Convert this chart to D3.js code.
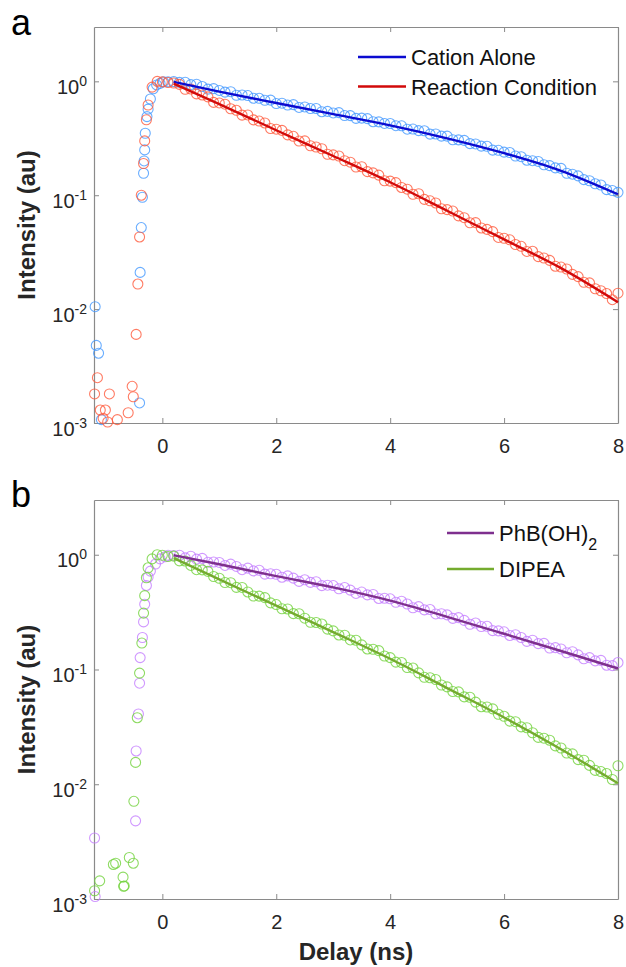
<!DOCTYPE html>
<html><head><meta charset="utf-8">
<script src="https://cdn.jsdelivr.net/npm/d3@7"></script>
<style>
body{margin:0;background:#fff}
svg{display:block}
text{font-family:"Liberation Sans",Arial,Helvetica,sans-serif}
</style>
</head><body>
<svg id="chart" width="626" height="967"></svg>
<script>
// ---------- DATA ----------
const xTicks = [0, 2, 4, 6, 8];
const yTicks = [1e-3, 1e-2, 1e-1, 1];
const yTickExp = ["-3", "-2", "-1", "0"];

const decayT = [0.1,0.2,0.3,0.4,0.5,0.6,0.7,0.8,0.9,1.0,
  1.1,1.2,1.3,1.4,1.5,1.6,1.7,1.8,1.9,2.0,
  2.1,2.2,2.3,2.4,2.5,2.6,2.7,2.8,2.9,3.0,
  3.1,3.2,3.3,3.4,3.5,3.6,3.7,3.8,3.9,4.0,
  4.1,4.2,4.3,4.4,4.5,4.6,4.7,4.8,4.9,5.0,
  5.1,5.2,5.3,5.4,5.5,5.6,5.7,5.8,5.9,6.0,
  6.1,6.2,6.3,6.4,6.5,6.6,6.7,6.8,6.9,7.0,
  7.1,7.2,7.3,7.4,7.5,7.6,7.7,7.8,7.9,8.0];

// Panel a
const cationRiseT = [-1.18,-1.16,-1.12,-1.07,-0.40,-0.39,-0.37,-0.35,-0.33,-0.32,-0.31,-0.30,-0.27,-0.25,-0.21,-0.16,-0.10,-0.04,0.02];
const cationRiseI = [0.0105,0.0048,0.0041,0.00107,0.0015,0.021,0.052,0.096,0.156,0.20,0.25,0.35,0.49,0.57,0.70,0.86,0.93,0.96,0.99];
const cationDecay = [0.99,0.995,0.98,0.982,0.935,0.944,0.90,0.855,0.863,0.832,
  0.804,0.811,0.755,0.759,0.75,0.711,0.71,0.682,0.684,0.638,
  0.643,0.619,0.625,0.59,0.596,0.577,0.578,0.541,0.545,0.528,
  0.531,0.501,0.50,0.473,0.475,0.471,0.442,0.441,0.427,0.426,
  0.408,0.407,0.38,0.381,0.369,0.368,0.344,0.345,0.33,0.33,
  0.307,0.306,0.303,0.284,0.282,0.27,0.269,0.249,0.248,0.239,
  0.237,0.221,0.218,0.203,0.201,0.198,0.185,0.182,0.174,0.172,
  0.156,0.153,0.148,0.137,0.134,0.126,0.123,0.112,0.110,0.106];

const reactionRiseT = [-1.19,-1.14,-1.09,-1.04,-1.0,-0.96,-0.93,-0.79,-0.60,-0.53,-0.51,-0.46,-0.43,-0.40,-0.37,-0.33,-0.31,-0.28,-0.25,-0.18,-0.09,0.0];
const reactionRiseI = [0.0018,0.0025,0.0013,0.0011,0.0013,0.00102,0.0018,0.00107,0.00123,0.0021,0.0017,0.006,0.0166,0.043,0.10,0.19,0.30,0.46,0.62,0.89,1.0,0.99];
const reactionDecay = [0.977,0.966,0.94,0.851,0.857,0.776,0.759,0.73,0.653,0.646,
  0.63,0.574,0.557,0.505,0.507,0.459,0.448,0.431,0.385,0.38,
  0.371,0.339,0.329,0.299,0.30,0.272,0.265,0.256,0.229,0.226,
  0.221,0.201,0.195,0.177,0.178,0.161,0.157,0.150,0.134,0.133,
  0.129,0.117,0.113,0.102,0.103,0.092,0.0893,0.0855,0.076,0.0748,
  0.0726,0.0659,0.0635,0.0573,0.0575,0.0516,0.0501,0.0479,0.0426,0.0419,
  0.0406,0.0369,0.0356,0.0321,0.0322,0.0289,0.0281,0.0268,0.0238,0.0234,
  0.0225,0.0202,0.0193,0.0172,0.017,0.0151,0.0145,0.0137,0.0121,0.0138];

// Panel b
const phbRiseT = [-1.19,-1.18,-0.47,-0.46,-0.42,-0.40,-0.39,-0.35,-0.33,-0.31,-0.28,-0.25,-0.21,-0.12,-0.04,0.05];
const phbRiseI = [0.0034,0.00105,0.0048,0.0195,0.041,0.076,0.127,0.19,0.26,0.37,0.54,0.64,0.72,0.83,0.92,0.96];
const phbDecay = [0.99,0.985,0.99,0.94,0.97,0.916,0.929,0.859,0.865,0.857,
  0.807,0.828,0.791,0.741,0.764,0.723,0.733,0.678,0.682,0.676,
  0.637,0.655,0.625,0.586,0.605,0.574,0.582,0.538,0.543,0.539,
  0.505,0.518,0.492,0.46,0.473,0.447,0.451,0.416,0.418,0.413,
  0.385,0.393,0.372,0.345,0.353,0.331,0.333,0.305,0.306,0.299,
  0.279,0.283,0.268,0.248,0.254,0.237,0.238,0.218,0.217,0.213,
  0.198,0.201,0.19,0.176,0.18,0.168,0.169,0.154,0.155,0.151,
  0.14,0.143,0.134,0.124,0.127,0.119,0.12,0.109,0.108,0.115];

const dipeaRiseT = [-1.19,-1.1,-0.86,-0.82,-0.69,-0.68,-0.67,-0.58,-0.51,-0.50,-0.47,-0.44,-0.40,-0.36,-0.33,-0.31,-0.28,-0.25,-0.18,-0.09,0.0];
const dipeaRiseI = [0.00118,0.00144,0.002,0.00205,0.00155,0.00129,0.0013,0.0023,0.00205,0.0071,0.0155,0.038,0.093,0.17,0.31,0.44,0.63,0.77,0.92,1.0,0.99];
const dipeaDecay = [0.966,0.973,0.885,0.883,0.807,0.741,0.738,0.716,0.646,0.624,
  0.573,0.571,0.52,0.519,0.474,0.437,0.436,0.423,0.381,0.368,
  0.338,0.337,0.307,0.306,0.28,0.258,0.257,0.249,0.225,0.217,
  0.20,0.199,0.181,0.18,0.164,0.151,0.15,0.146,0.131,0.127,
  0.116,0.115,0.104,0.103,0.0935,0.0855,0.0847,0.0818,0.0733,0.0705,
  0.0643,0.0638,0.0577,0.0573,0.052,0.0474,0.0471,0.0454,0.0407,0.0391,
  0.0355,0.0351,0.0316,0.0311,0.0281,0.0256,0.0252,0.0242,0.0216,0.0207,
  0.0187,0.0184,0.0164,0.0162,0.0146,0.0132,0.0129,0.0124,0.011,0.0145];

// Fits
const fitT = [0.2, 1, 2, 3, 4, 5, 6, 7, 8];
const cationFit   = [0.989, 0.813, 0.646, 0.515, 0.411, 0.316, 0.234, 0.164, 0.102];
const reactionFit = [0.955, 0.631, 0.372, 0.221, 0.130, 0.0731, 0.0409, 0.0229, 0.0115];
const phbFit      = [0.99, 0.826, 0.652, 0.519, 0.398, 0.288, 0.205, 0.145, 0.102];
const dipeaFit    = [0.933, 0.61, 0.36, 0.212, 0.124, 0.0689, 0.0382, 0.0202, 0.0102];

const panelLetters = ["a", "b"];
const legendA = ["Cation Alone", "Reaction Condition"];
const legendB = ["PhB(OH)", "DIPEA"];

// ---------- DRAW ----------
const svg = d3.select("#chart");
const L = 94, R = 618;
const x = d3.scaleLinear().domain([-1.2, 8]).range([L, R]);

function pts(tr, ir, dec) {
  const a = tr.map((t, i) => [t, ir[i]]);
  return a.concat(decayT.map((t, i) => [t, dec[i]]));
}

const panels = [
  {top: 27, bottom: 423, letter: panelLetters[0], letterY: 35,
   series: [
     {pts: pts(cationRiseT, cationRiseI, cationDecay), fit: cationFit, mc: "#4499ff", lc: "#0b0bd0"},
     {pts: pts(reactionRiseT, reactionRiseI, reactionDecay), fit: reactionFit, mc: "#ff5a3c", lc: "#d20a0a"}
   ],
   legend: {names: legendA, x1: 358, x2: 406, tx: 411, ys: [57, 86.5], sub: [null, null]}},
  {top: 500, bottom: 899, letter: panelLetters[1], letterY: 507,
   series: [
     {pts: pts(phbRiseT, phbRiseI, phbDecay), fit: phbFit, mc: "#c47eff", lc: "#7e2f8e"},
     {pts: pts(dipeaRiseT, dipeaRiseI, dipeaDecay), fit: dipeaFit, mc: "#72d23c", lc: "#74ab2e"}
   ],
   legend: {names: legendB, x1: 447, x2: 494, tx: 499, ys: [533, 569], sub: ["2", null]}}
];

const axisColor = "#8a8a8a";
const tickText = "#262626";

panels.forEach((p, pi) => {
  const y = d3.scaleLog().domain([1e-3, 3]).range([p.bottom, p.top]);
  const g = svg.append("g");

  // axes
  const xb = g.append("g").attr("transform", `translate(0,${p.bottom})`)
    .call(d3.axisBottom(x).tickValues(xTicks).tickSizeInner(-5).tickSizeOuter(0).tickPadding(16).tickFormat(d3.format("d")));
  const xt = g.append("g").attr("transform", `translate(0,${p.top})`)
    .call(d3.axisTop(x).tickValues(xTicks).tickSizeInner(-5).tickSizeOuter(0).tickFormat(""));
  const yl = g.append("g").attr("transform", `translate(${L},0)`)
    .call(d3.axisLeft(y).tickValues(yTicks).tickSizeInner(-5).tickSizeOuter(0).tickFormat(""));
  const yr = g.append("g").attr("transform", `translate(${R},0)`)
    .call(d3.axisRight(y).tickValues(yTicks).tickSizeInner(-5).tickSizeOuter(0).tickFormat(""));
  [xb, xt, yl, yr].forEach(a => {
    a.select(".domain").attr("stroke", axisColor).attr("stroke-width", 1.2);
    a.selectAll(".tick line").attr("stroke", axisColor).attr("stroke-width", 1);
  });
  xb.selectAll(".tick text").attr("fill", tickText).attr("font-size", 20)
    .attr("font-family", '"Liberation Sans",Arial,sans-serif');

  yl.selectAll(".tick").each(function(d, i) {
    const t = d3.select(this).append("text")
      .attr("x", -7).attr("y", 12).attr("text-anchor", "end").attr("fill", tickText)
      .attr("font-family", '"Liberation Sans",Arial,sans-serif');
    t.append("tspan").attr("font-size", 20).text("10");
    t.append("tspan").attr("font-size", 14).attr("dy", -8).text(yTickExp[yTicks.indexOf(d)]);
  });

  // data markers
  p.series.forEach(s => {
    g.append("g").selectAll("circle").data(s.pts).join("circle")
      .attr("cx", d => x(d[0])).attr("cy", d => y(d[1])).attr("r", 5)
      .attr("fill", "none").attr("stroke", s.mc).attr("stroke-width", 1.1).attr("stroke-opacity", 0.8);
  });
  // fit lines
  const line = d3.line().x(d => x(d[0])).y(d => y(d[1])).curve(d3.curveMonotoneX);
  p.series.forEach(s => {
    g.append("path").datum(fitT.map((t, i) => [t, s.fit[i]]))
      .attr("d", line).attr("fill", "none").attr("stroke", s.lc).attr("stroke-width", 2.4);
  });

  // legend
  p.series.forEach((s, i) => {
    const yy = p.legend.ys[i];
    g.append("line").attr("x1", p.legend.x1).attr("x2", p.legend.x2).attr("y1", yy).attr("y2", yy)
      .attr("stroke", s.lc).attr("stroke-width", 2.4);
    const t = g.append("text").attr("x", p.legend.tx).attr("y", yy + 8).attr("font-size", 22).attr("fill", "#111")
      .text(p.legend.names[i]);
    if (p.legend.sub[i]) t.append("tspan").attr("font-size", 16).attr("dy", 9).text(p.legend.sub[i]);
  });

  // panel letter
  svg.append("text").attr("x", 11).attr("y", p.letterY).attr("font-size", 36).attr("fill", "#000").text(p.letter);

  // y label
  svg.append("text").attr("transform", `translate(35,${(p.top + p.bottom) / 2}) rotate(-90)`)
    .attr("text-anchor", "middle").attr("font-size", 24).attr("font-weight", "bold").attr("fill", tickText)
    .text("Intensity (au)");
});

svg.append("text").attr("x", (L + R) / 2).attr("y", 960).attr("text-anchor", "middle")
  .attr("font-size", 24).attr("font-weight", "bold").attr("fill", tickText).text("Delay (ns)");
</script>
</body></html>
